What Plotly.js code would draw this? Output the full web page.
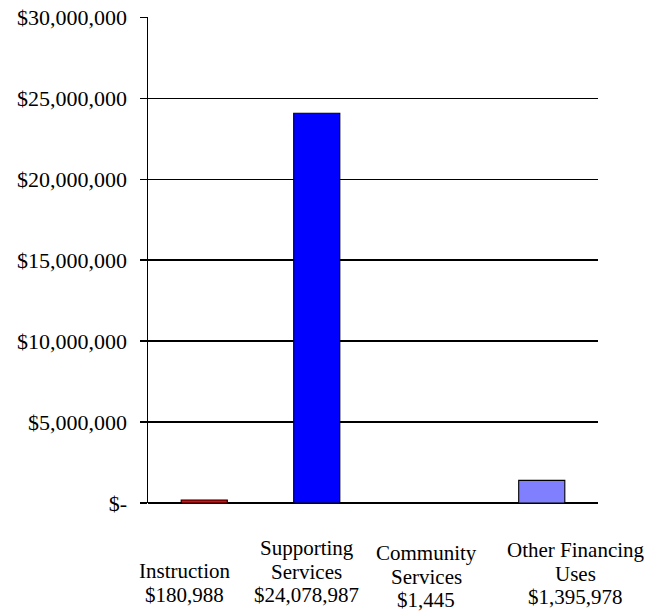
<!DOCTYPE html>
<html>
<head>
<meta charset="utf-8">
<script src="https://cdn.plot.ly/plotly-3.0.1.min.js"></script>
<style>html,body{margin:0;padding:0;background:#fff;}#chart{width:663px;height:611px;}</style>
</head>
<body>
<div id="chart"></div>
<script>
// ---- data ----
var categories = ["Instruction", "Supporting Services", "Community Services", "Other Financing Uses"];
var labelLines = [["Instruction"], ["Supporting", "Services"], ["Community", "Services"], ["Other Financing", "Uses"]];
var valueLabels = ["$180,988", "$24,078,987", "$1,445", "$1,395,978"];
var values = [180988, 24078987, 1445, 1395978];
var yTickVals = [0, 5000000, 10000000, 15000000, 20000000, 25000000, 30000000];
var yTickText = ["$-", "$5,000,000", "$10,000,000", "$15,000,000", "$20,000,000", "$25,000,000", "$30,000,000"];

// ---- style / placement ----
var barColors = ["#FF0000", "#0000FF", "#000000", "#8080FF"];
var labelXShift = [-20, -10, -3, 34];      // px offset of label block from bar centre
var labelTopDrop = [68, 45, 50, 47];       // px below the zero line of the first line's centre
var lineStep = 23.5;
var font = "'Liberation Serif', 'Times New Roman', serif";

var trace = {
  type: "bar",
  x: categories,
  y: values,
  width: 0.41,
  marker: {color: barColors, line: {color: "#000000", width: 1.1}},
  hoverinfo: "none"
};

var annotations = [];
categories.forEach(function (c, i) {
  var lines = labelLines[i].concat([valueLabels[i]]);
  lines.forEach(function (t, k) {
    annotations.push({
      xref: "x", yref: "paper", x: c, y: 0,
      xshift: labelXShift[i],
      yshift: -(labelTopDrop[i] + k * lineStep),
      yanchor: "middle", xanchor: "center", showarrow: false,
      text: t,
      font: {family: font, size: 21, color: "#000"}
    });
  });
});

var layout = {
  width: 663, height: 611,
  margin: {l: 148, r: 65, t: 17, b: 108},
  paper_bgcolor: "#fff", plot_bgcolor: "#fff",
  showlegend: false,
  font: {family: font, size: 21, color: "#000"},
  xaxis: {
    type: "category",
    showticklabels: false,
    showgrid: false,
    ticks: "",
    showline: false,
    zeroline: false,
    range: [-0.5, 3.5]
  },
  yaxis: {
    range: [0, 30030000],
    tickvals: yTickVals,
    ticktext: yTickText,
    showgrid: true,
    gridcolor: "#000",
    gridwidth: 1.5,
    zeroline: true,
    zerolinecolor: "#000",
    zerolinewidth: 1.5,
    showline: true,
    linecolor: "#000",
    linewidth: 1.5,
    ticks: "outside",
    ticklen: 7,
    tickwidth: 1.5,
    tickcolor: "#000",
    ticklabelstandoff: 8,
    tickfont: {family: font, size: 22, color: "#000"}
  },
  annotations: annotations
};

Plotly.newPlot("chart", [trace], layout, {displayModeBar: false, staticPlot: true});
</script>
</body>
</html>
